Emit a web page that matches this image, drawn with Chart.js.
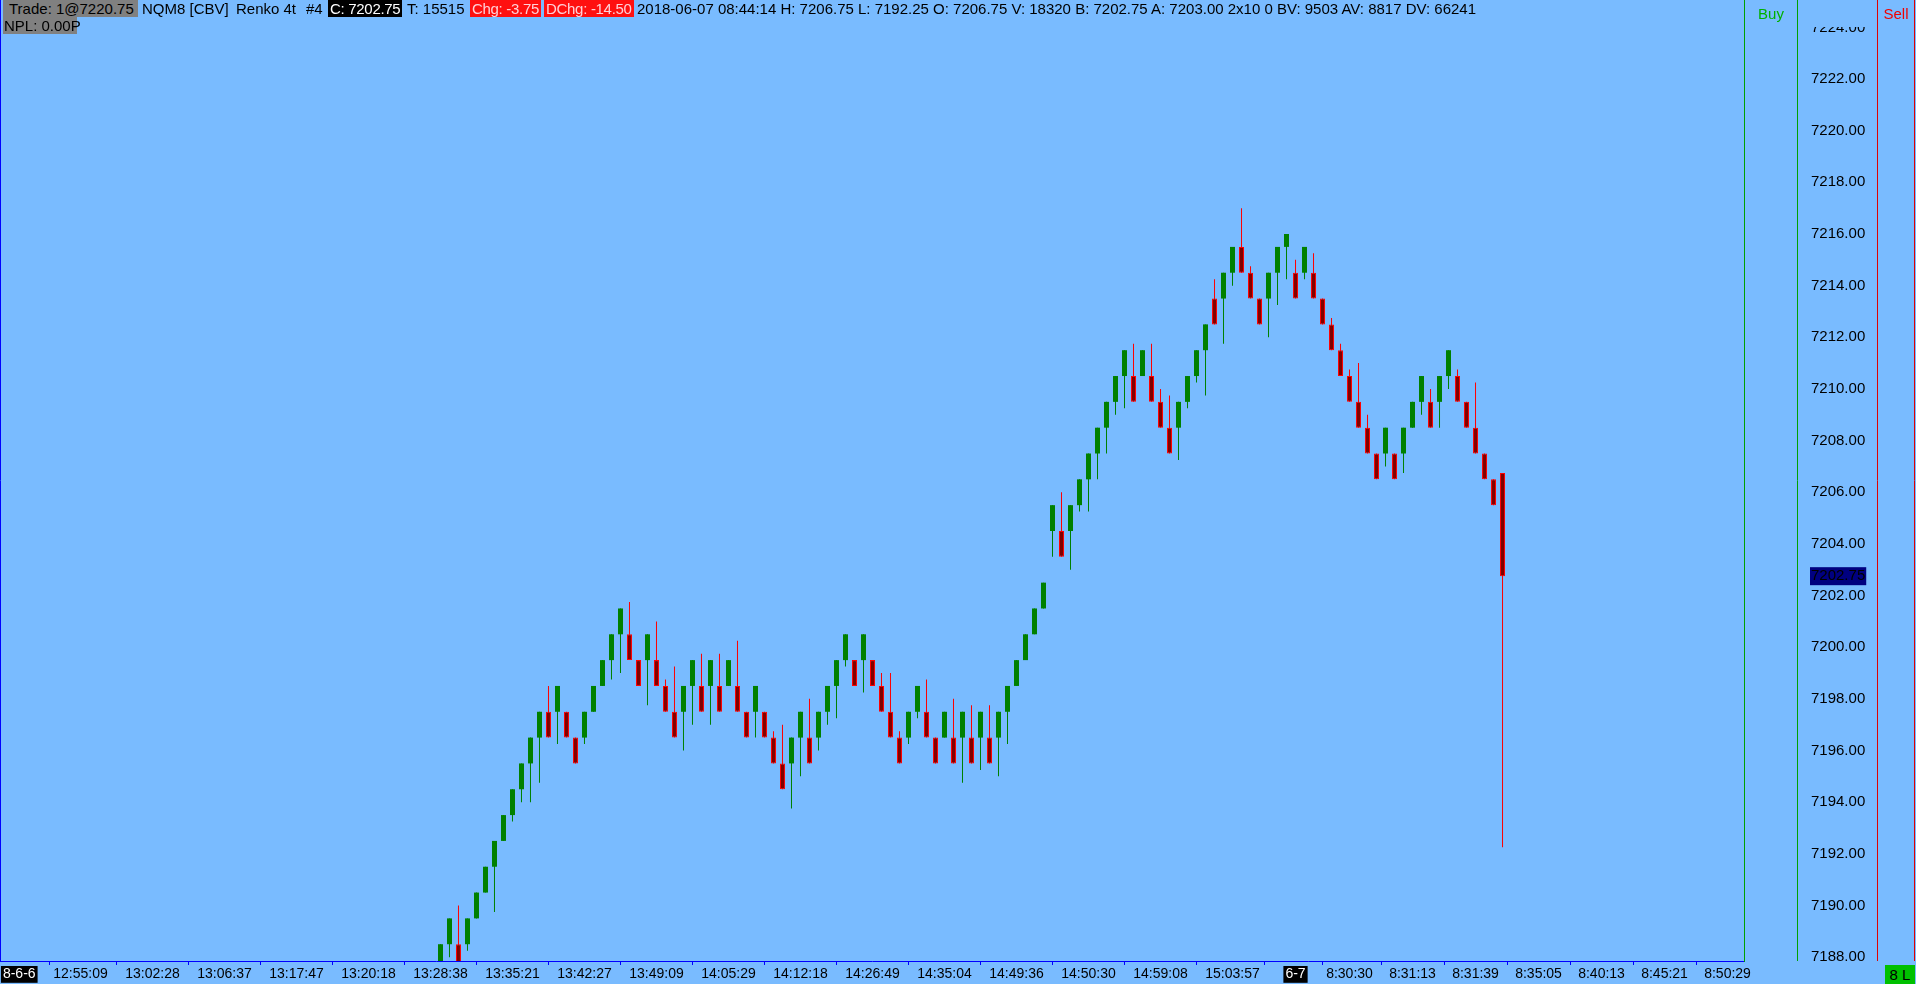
<!DOCTYPE html>
<html>
<head>
<meta charset="utf-8">
<script src="https://cdn.jsdelivr.net/npm/chart.js@4.4.1/dist/chart.umd.min.js"></script>
<style>
  body { margin: 0; background: #79bbff; overflow: hidden; }
  #wrap { position: relative; width: 1916px; height: 984px; }
  .t { position: absolute; top: 0; height: 17px; line-height: 17px; font: 15px 'Liberation Sans', sans-serif; color: #000; white-space: pre; box-sizing: border-box; }
  .box { letter-spacing: -0.3px; padding: 0 2px; }
</style>
</head>
<body>
<div id="wrap">
  <canvas id="chart" width="1916" height="984"></canvas>

  <div class="t" style="left:3px;width:135px;padding-left:6px;background:#808080">Trade: 1@7220.75</div>
  <div class="t" style="left:142px">NQM8 [CBV]</div>
  <div class="t" style="left:236px">Renko 4t</div>
  <div class="t" style="left:306px">#4</div>
  <div class="t box" style="left:328px;background:#000;color:#fff">C: 7202.75</div>
  <div class="t" style="left:407px">T: 15515</div>
  <div class="t box" style="left:470px;background:#ff1010;color:#ffd0d8">Chg: -3.75</div>
  <div class="t box" style="left:544px;background:#ff1010;color:#ffd0d8">DChg: -14.50</div>
  <div class="t" style="left:637px">2018-06-07 08:44:14 H: 7206.75 L: 7192.25 O: 7206.75 V: 18320 B: 7202.75 A: 7203.00 2x10 0 BV: 9503 AV: 8817 DV: 66241</div>
  <div class="t" style="left:3px;top:17px;width:74px;padding-left:1px;background:#808080">NPL: 0.00P</div>

  <div class="t" style="left:1745px;top:5px;width:52px;text-align:center;color:#00b000">Buy</div>
  <div class="t" style="left:1878px;top:5px;width:36px;text-align:center;color:#f00000">Sell</div>
  <div class="t" style="left:1885px;top:965px;width:30px;height:19px;line-height:19px;text-align:center;background:#00c000">8 L</div>
</div>

<script>
// Renko 4t bars, one brick per slot (index 0 = 13:28:38)
const opens = [
  7187.5, 7188.5, 7188.5, 7188.5, 7189.5, 7190.5, 7191.5, 7192.5, 7193.5, 7194.5,
  7195.5, 7196.5, 7197.5, 7197.5, 7197.5, 7196.5, 7196.5, 7197.5, 7198.5, 7199.5,
  7200.5, 7200.5, 7199.5, 7199.5, 7199.5, 7198.5, 7197.5, 7197.5, 7198.5, 7198.5,
  7198.5, 7198.5, 7198.5, 7198.5, 7197.5, 7197.5, 7197.5, 7196.5, 7195.5, 7195.5,
  7196.5, 7196.5, 7196.5, 7197.5, 7198.5, 7199.5, 7199.5, 7199.5, 7199.5, 7198.5,
  7197.5, 7196.5, 7196.5, 7197.5, 7197.5, 7196.5, 7196.5, 7196.5, 7196.5, 7196.5,
  7196.5, 7196.5, 7196.5, 7197.5, 7198.5, 7199.5, 7200.5, 7201.5, 7204.5, 7204.5,
  7204.5, 7205.5, 7206.5, 7207.5, 7208.5, 7209.5, 7210.5, 7210.5, 7210.5, 7210.5,
  7209.5, 7208.5, 7208.5, 7209.5, 7210.5, 7211.5, 7213.5, 7213.5, 7214.5, 7215.5,
  7214.5, 7213.5, 7213.5, 7214.5, 7215.5, 7214.5, 7214.5, 7214.5, 7213.5, 7212.5,
  7211.5, 7210.5, 7209.5, 7208.5, 7207.5, 7207.5, 7207.5, 7207.5, 7208.5, 7209.5,
  7209.5, 7209.5, 7210.5, 7210.5, 7209.5, 7208.5, 7207.5, 7206.5, 7206.75
];
const closes = [
  7188.5, 7189.5, 7187.5, 7189.5, 7190.5, 7191.5, 7192.5, 7193.5, 7194.5, 7195.5,
  7196.5, 7197.5, 7196.5, 7198.5, 7196.5, 7195.5, 7197.5, 7198.5, 7199.5, 7200.5,
  7201.5, 7199.5, 7198.5, 7200.5, 7198.5, 7197.5, 7196.5, 7198.5, 7199.5, 7197.5,
  7199.5, 7197.5, 7199.5, 7197.5, 7196.5, 7198.5, 7196.5, 7195.5, 7194.5, 7196.5,
  7197.5, 7195.5, 7197.5, 7198.5, 7199.5, 7200.5, 7198.5, 7200.5, 7198.5, 7197.5,
  7196.5, 7195.5, 7197.5, 7198.5, 7196.5, 7195.5, 7197.5, 7195.5, 7197.5, 7195.5,
  7197.5, 7195.5, 7197.5, 7198.5, 7199.5, 7200.5, 7201.5, 7202.5, 7205.5, 7203.5,
  7205.5, 7206.5, 7207.5, 7208.5, 7209.5, 7210.5, 7211.5, 7209.5, 7211.5, 7209.5,
  7208.5, 7207.5, 7209.5, 7210.5, 7211.5, 7212.5, 7212.5, 7214.5, 7215.5, 7214.5,
  7213.5, 7212.5, 7214.5, 7215.5, 7216.0, 7213.5, 7215.5, 7213.5, 7212.5, 7211.5,
  7210.5, 7209.5, 7208.5, 7207.5, 7206.5, 7208.5, 7206.5, 7208.5, 7209.5, 7210.5,
  7208.5, 7210.5, 7211.5, 7209.5, 7208.5, 7207.5, 7206.5, 7205.5, 7202.75
];
const highs = [
  7188.5, 7189.5, 7190.0, 7189.5, 7190.5, 7191.5, 7192.5, 7193.5, 7194.5, 7195.5,
  7196.5, 7197.5, 7198.5, 7198.5, 7197.5, 7196.5, 7197.5, 7198.5, 7199.5, 7200.5,
  7201.5, 7201.75, 7199.5, 7200.5, 7201.0, 7198.75, 7199.25, 7198.5, 7199.5, 7199.75,
  7199.5, 7199.75, 7199.5, 7200.25, 7197.5, 7198.5, 7197.5, 7196.75, 7197.0, 7196.5,
  7197.5, 7198.0, 7197.5, 7198.5, 7199.5, 7200.5, 7199.5, 7200.5, 7199.5, 7199.0,
  7199.0, 7196.75, 7197.5, 7198.5, 7198.75, 7196.5, 7197.5, 7198.0, 7197.5, 7197.75,
  7197.5, 7197.75, 7197.5, 7198.5, 7199.5, 7200.5, 7201.5, 7202.5, 7205.5, 7206.0,
  7205.5, 7206.5, 7207.5, 7208.5, 7209.5, 7210.5, 7211.5, 7211.75, 7211.5, 7211.75,
  7210.0, 7209.75, 7209.5, 7210.5, 7211.5, 7212.5, 7214.25, 7214.5, 7215.5, 7217.0,
  7214.75, 7213.5, 7214.5, 7215.5, 7216.0, 7215.0, 7215.5, 7215.25, 7213.5, 7212.75,
  7211.75, 7210.75, 7211.0, 7209.0, 7207.5, 7208.5, 7207.5, 7208.5, 7209.5, 7210.5,
  7210.0, 7210.5, 7211.5, 7210.75, 7209.5, 7210.25, 7207.5, 7206.5, 7206.75
];
const lows = [
  7187.5, 7188.0, 7187.5, 7188.25, 7189.5, 7190.5, 7189.75, 7192.5, 7193.25, 7194.0,
  7194.0, 7194.75, 7196.5, 7196.25, 7196.5, 7195.5, 7196.25, 7197.5, 7198.5, 7198.75,
  7199.0, 7199.5, 7198.5, 7197.75, 7198.5, 7197.5, 7196.5, 7196.0, 7197.0, 7197.5,
  7197.0, 7197.5, 7198.5, 7197.5, 7196.5, 7196.5, 7196.5, 7195.5, 7194.5, 7193.75,
  7195.0, 7195.5, 7196.0, 7197.0, 7197.25, 7199.25, 7198.5, 7198.25, 7198.5, 7197.5,
  7196.5, 7195.5, 7196.25, 7197.25, 7196.5, 7195.5, 7196.5, 7195.5, 7194.75, 7195.5,
  7195.25, 7195.5, 7195.0, 7196.25, 7198.5, 7199.5, 7200.5, 7201.5, 7203.5, 7203.5,
  7203.0, 7205.25, 7205.25, 7206.5, 7207.5, 7209.0, 7209.25, 7209.5, 7210.5, 7209.5,
  7208.5, 7207.5, 7207.25, 7209.25, 7210.25, 7209.75, 7212.5, 7211.75, 7214.0, 7214.5,
  7213.5, 7212.5, 7212.0, 7213.25, 7214.25, 7213.5, 7214.25, 7213.5, 7212.5, 7211.5,
  7210.5, 7209.5, 7208.5, 7207.5, 7206.5, 7207.0, 7206.5, 7206.75, 7208.5, 7209.0,
  7208.5, 7208.5, 7210.0, 7209.5, 7208.5, 7207.5, 7206.5, 7205.5, 7192.25
];

// time axis: bar slot of each label and its text
const timeTickIdx = [-46.8, -40, -32, -24, -16, -8, 0, 8, 16, 24, 32, 40, 48, 56, 64, 72, 80, 88, 95, 101, 108, 115, 122, 129, 136, 143];
const timeTickText = ['8-6-6', '12:55:09', '13:02:28', '13:06:37', '13:17:47', '13:20:18', '13:28:38', '13:35:21',
  '13:42:27', '13:49:09', '14:05:29', '14:12:18', '14:26:49', '14:35:04', '14:49:36', '14:50:30', '14:59:08',
  '15:03:57', '6-7', '8:30:30', '8:31:13', '8:31:39', '8:35:05', '8:40:13', '8:45:21', '8:50:29'];
const dateTicks = ['8-6-6', '6-7'];

const priceTicks = [7188, 7190, 7192, 7194, 7196, 7198, 7200, 7202, 7204, 7206, 7208, 7210, 7212, 7214, 7216, 7218, 7220, 7222, 7224];
const lastPrice = 7202.75;

// visible window
const xMin = -48.94, xMax = 144.83;
const yMin = 7187.85, yMax = 7225.06;

const BG = '#79bbff';
const UP = '#008000';
const DOWN_FILL = '#800000';
const DOWN_LINE = '#ff0000';
const FONT = "'Liberation Sans', sans-serif";

const isUp = opens.map((o, i) => closes[i] >= o);
const bodies = opens.map((o, i) => ({ x: i, y: [o, closes[i]] }));
const wicks = lows.map((l, i) => ({ x: i, y: [l, highs[i]] }));

const framePlugin = {
  id: 'frame',
  afterDraw(chart) {
    const { ctx, chartArea, scales: { y } } = chart;
    const buyRight = y.left + 53, priceRight = y.left + 133, sellRight = y.left + 170;
    ctx.save();
    // header strip hides the clipped top price label
    ctx.fillStyle = BG;
    ctx.fillRect(buyRight + 1, 0, priceRight - buyRight - 1, 27);
    const vline = (x, color) => {
      ctx.strokeStyle = color;
      ctx.lineWidth = 1;
      ctx.beginPath();
      ctx.moveTo(x + 0.5, 0);
      ctx.lineTo(x + 0.5, chartArea.bottom);
      ctx.stroke();
    };
    vline(chartArea.left, '#0000ff');
    vline(buyRight, '#00a000');
    vline(priceRight, '#e00000');
    vline(sellRight, '#e00000');
    ctx.restore();
  }
};

new Chart(document.getElementById('chart'), {
  type: 'bar',
  data: {
    datasets: [
      {
        data: bodies,
        order: 0,
        grouped: false,
        barThickness: 5,
        inflateAmount: 0,
        borderSkipped: false,
        backgroundColor: isUp.map(u => u ? UP : DOWN_FILL),
        borderColor: isUp.map(u => u ? UP : DOWN_LINE),
        borderWidth: isUp.map(u => u ? 0 : 1)
      },
      {
        data: wicks,
        order: 1,
        grouped: false,
        barThickness: 1,
        inflateAmount: 0,
        borderWidth: 0,
        backgroundColor: isUp.map(u => u ? UP : DOWN_LINE)
      }
    ]
  },
  options: {
    responsive: false,
    animation: false,
    layout: { padding: 0 },
    plugins: { legend: { display: false }, tooltip: { enabled: false } },
    scales: {
      x: {
        type: 'linear',
        min: xMin,
        max: xMax,
        offset: false,
        afterBuildTicks: s => { s.ticks = timeTickIdx.map(v => ({ value: v })); },
        afterFit: s => { s.height = 23; s.paddingLeft = 0; s.paddingRight = 0; },
        grid: {
          drawOnChartArea: false,
          drawTicks: true,
          tickLength: 4,
          color: '#0000ff',
          tickColor: c => c.index === 0 ? 'rgba(0,0,0,0)' : '#0000ff'
        },
        border: { color: '#0000ff' },
        ticks: {
          autoSkip: false,
          maxRotation: 0,
          minRotation: 0,
          padding: 1,
          font: { family: FONT, size: 14 },
          color: c => dateTicks.includes(timeTickText[c.index]) ? '#ffffff' : '#000000',
          showLabelBackdrop: c => dateTicks.includes(timeTickText[c.index]),
          backdropColor: '#000000',
          backdropPadding: { left: 2, right: 2, top: 0, bottom: 0 },
          callback: (v, i) => timeTickText[i]
        }
      },
      y: {
        position: 'right',
        min: yMin,
        max: yMax,
        afterBuildTicks: s => { s.ticks = priceTicks.concat([lastPrice]).map(v => ({ value: v })); },
        afterFit: s => { s.width = 172; s.paddingTop = 0; s.paddingBottom = 0; },
        grid: { drawOnChartArea: false, drawTicks: false },
        border: { color: '#00a000' },
        ticks: {
          autoSkip: false,
          padding: 67,
          font: { family: FONT, size: 15 },
          color: '#000000',
          showLabelBackdrop: c => c.tick && c.tick.value === lastPrice,
          backdropColor: '#000080',
          backdropPadding: { left: 1, right: 1, top: 0, bottom: 0 },
          callback: v => v.toFixed(2)
        }
      }
    }
  },
  plugins: [framePlugin]
});
</script>
</body>
</html>
